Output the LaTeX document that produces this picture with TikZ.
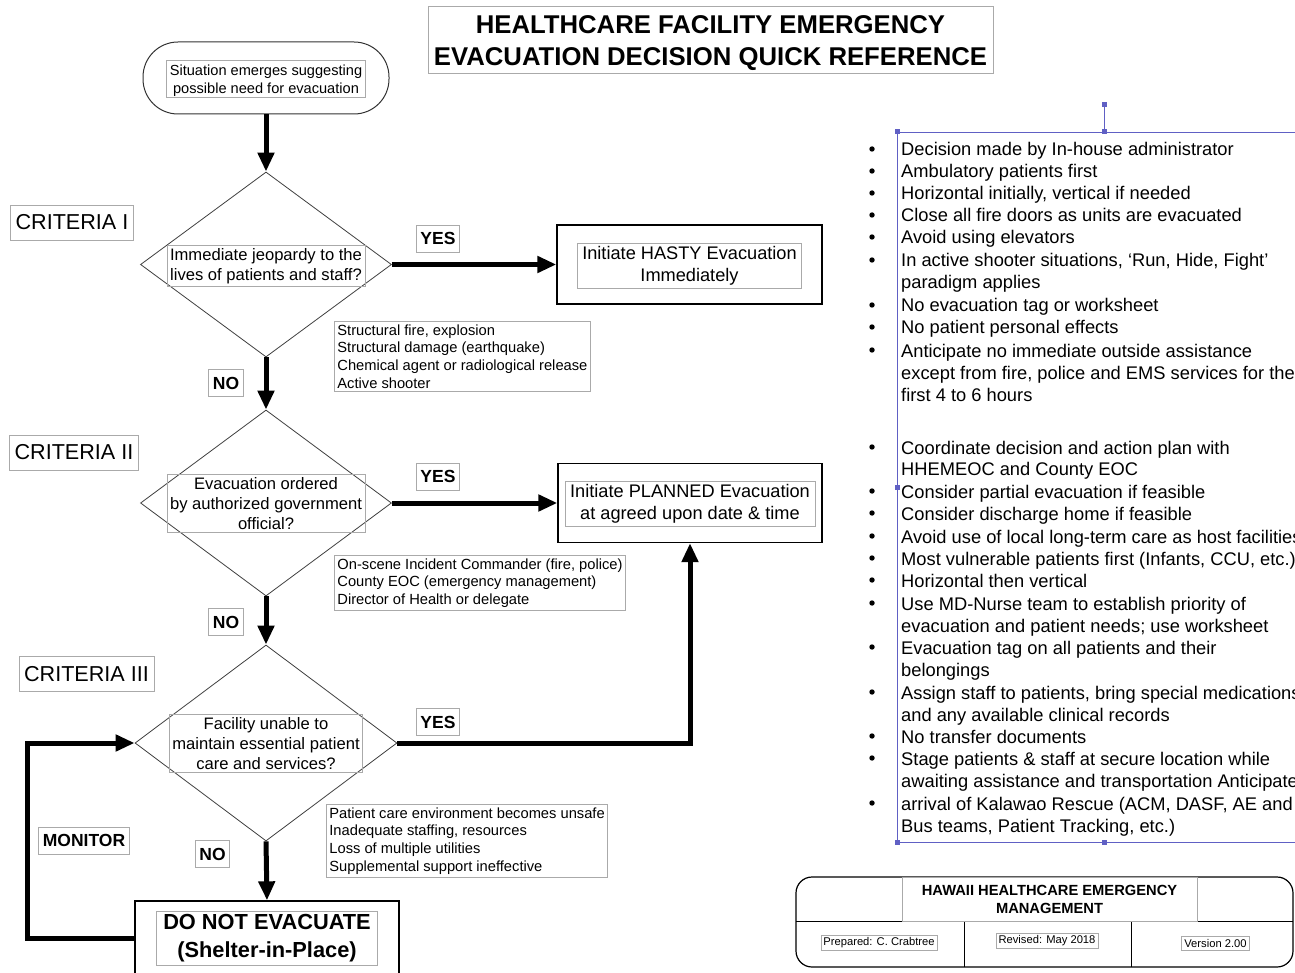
\documentclass[tikz,border=0pt]{standalone}
\usepackage{fontspec}
\setmainfont{Liberation Sans}
\usetikzlibrary{shapes.geometric,arrows.meta}

\definecolor{selblue}{RGB}{96,96,196}
\definecolor{boxgray}{RGB}{170,170,170}

\tikzset{
	gbox/.style={draw=boxgray, line width=0.8pt, inner sep=3pt, align=center},
	kbox/.style={draw=black, line width=1.3pt},
	decision/.style={diamond, draw=black!75, line width=0.8pt, inner sep=0pt},
	qtext/.style={gbox, font=\fontsize{16.6}{20}\selectfont},
	subtext/.style={gbox, anchor=north west, align=left, font=\fontsize{14.7}{17.7}\selectfont},
	yesno/.style={gbox, minimum height=27pt, inner xsep=4pt, font=\bfseries\fontsize{17.5}{20}\selectfont},
	crit/.style={gbox, minimum height=35pt, inner xsep=5pt, font=\fontsize{21.6}{24}\selectfont},
	flow/.style={line width=5pt, -{Triangle[length=19pt,width=16pt]}},
	item/.style={anchor=base west, inner sep=0pt, font=\fontsize{18.3}{22.2}\selectfont},
}

\begin{document}
\begin{tikzpicture}[x=1pt,y=-1pt]
	\useasboundingbox (0,0) rectangle (1295,973);
	\clip (0,0) rectangle (1295,973);
	\fill[white] (0,0) rectangle (1295,973);

	% title
	\node[gbox, minimum width=565pt, minimum height=67pt] (title) at (710.5,39.5) {};
	\node[align=center, inner sep=0pt, font=\bfseries\fontsize{25.7}{32}\selectfont] (titletxt) at (710.5,43)
		{HEALTHCARE FACILITY EMERGENCY\\EVACUATION DECISION QUICK REFERENCE};

	% flow chart
	\node[draw=black!80, line width=1pt, rounded corners=35pt, minimum width=246pt, minimum height=72pt] (start) at (266,78) {};
	\node[gbox, minimum width=199pt, minimum height=37pt] (startbox) at (266,78.5) {};
	\node[align=center, inner sep=0pt, font=\fontsize{14.6}{18}\selectfont] (starttxt) at (266,81) {Situation emerges suggesting\\possible need for evacuation};

	\node[decision, minimum width=251pt, minimum height=185pt] (d1) at (266,264.5) {};
	\node[qtext] (q1) at (266,266) {Immediate jeopardy to the\\lives of patients and staff?};

	\node[decision, minimum width=251pt, minimum height=186pt] (d2) at (266,503) {};
	\node[qtext] (q2) at (266,503.5) {Evacuation ordered\\by authorized government\\official?};

	\node[decision, minimum width=262pt, minimum height=196pt] (d3) at (266,743) {};
	\node[qtext] (q3) at (266,743.5) {Facility unable to\\maintain essential patient\\care and services?};

	\node[kbox, minimum width=265pt, minimum height=79pt] (hasty) at (689.5,264.5) {};
	\node[gbox, minimum width=224pt, font=\fontsize{18.2}{22}\selectfont] (hastytxt) at (689.5,265.5) {Initiate HASTY Evacuation\\Immediately};

	\node[kbox, minimum width=264pt, minimum height=79pt] (planned) at (690,503) {};
	\node[gbox, minimum width=250pt, font=\fontsize{18.2}{22}\selectfont] (plannedtxt) at (690,504) {Initiate PLANNED Evacuation\\at agreed upon date \& time};

	\node[kbox, minimum width=264pt, minimum height=74pt] (dne) at (267,938) {};
	\node[gbox, minimum width=221pt, font=\bfseries\fontsize{21.8}{28}\selectfont] (dnetxt) at (267,938.5) {DO NOT EVACUATE\\(Shelter-in-Place)};

	\node[subtext] (sub1) at (334,321) {Structural fire, explosion\\Structural damage (earthquake)\\Chemical agent or radiological release\\Active shooter};
	\node[subtext] (sub2) at (334,555) {On-scene Incident Commander (fire, police)\\County EOC (emergency management)\\Director of Health or delegate};
	\node[subtext] (sub3) at (326,804) {Patient care environment becomes unsafe\\Inadequate staffing, resources\\Loss of multiple utilities\\Supplemental support ineffective};

	\node[crit] (crit1) at (72,222.5) {CRITERIA I};
	\node[crit] (crit2) at (74,452.5) {CRITERIA II};
	\node[crit] (crit3) at (86.5,674) {CRITERIA III};

	\node[yesno] (yes1) at (438,238.5) {YES};
	\node[yesno] (yes2) at (438,476.5) {YES};
	\node[yesno] (yes3) at (438,722) {YES};
	\node[yesno] (no1) at (226,383) {NO};
	\node[yesno] (no2) at (226,622) {NO};
	\node[yesno] (no3) at (212.5,854) {NO};
	\node[yesno] (monitor) at (84,840.5) {MONITOR};

	\draw[flow] (start.south) -- (d1.north);
	\draw[flow] (d1.east) -- (hasty.west);
	\draw[flow] (d1.south) -- (d2.north);
	\draw[flow] (d2.east) -- (planned.west);
	\draw[flow] (d2.south) -- (d3.north);
	\draw[flow] (d3.east) -| (planned.south);
	\draw[flow] (d3.south) -- (dne.north);
	\draw[flow] (dne.west) -- ++(-107,0) |- (d3.west);

	% bullet list
	\draw[selblue, line width=0.8pt] (1104,105) -- (1104,132);
	\draw[selblue, line width=0.8pt] (1295,132) -- (897,132) -- (897,842) -- (1295,842);
	\foreach \hx/\hy in {897/132,1104/132,1104/105,897/842,1104/842,897/487}
		\fill[selblue] (\hx-2.5,\hy-2.5) rectangle (\hx+2.5,\hy+2.5);

	\foreach \by in {149,171,193,215,237,260,305,327,350,447,491,513,536,558,580,603,647,692,736,758,803}
		\fill (872,\by) circle (2.7);

	\foreach \ty/\tx [count=\i] in {
		149/{Decision made by In-house administrator},
		171/{Ambulatory patients first},
		193/{Horizontal initially, vertical if needed},
		215/{Close all fire doors as units are evacuated},
		237/{Avoid using elevators},
		260/{In active shooter situations, ‘Run, Hide, Fight’},
		282/{paradigm applies},
		305/{No evacuation tag or worksheet},
		327/{No patient personal effects},
		350/{Anticipate no immediate outside assistance},
		372/{except from fire, police and EMS services for the},
		394/{first 4 to 6 hours},
		447/{Coordinate decision and action plan with},
		468/{HHEMEOC and County EOC},
		491/{Consider partial evacuation if feasible},
		513/{Consider discharge home if feasible},
		536/{Avoid use of local long-term care as host facilities},
		558/{Most vulnerable patients first (Infants, CCU, etc.)},
		580/{Horizontal then vertical},
		603/{Use MD-Nurse team to establish priority of},
		625/{evacuation and patient needs; use worksheet},
		647/{Evacuation tag on all patients and their},
		669/{belongings},
		692/{Assign staff to patients, bring special medications},
		714/{and any available clinical records},
		736/{No transfer documents},
		758/{Stage patients \& staff at secure location while},
		780/{awaiting assistance and transportation Anticipate},
		803/{arrival of Kalawao Rescue (ACM, DASF, AE and},
		825/{Bus teams, Patient Tracking, etc.)}}
		\node[item] (line\i) at (901,\ty+7) {\tx};

	% footer
	\draw[line width=1.2pt, rounded corners=16pt] (796,877) rectangle (1293,967);
	\draw[line width=1pt] (796,921) -- (1293,921);
	\draw[line width=1pt] (964,921) -- (964,967);
	\draw[line width=1pt] (1131,921) -- (1131,967);
	\node[gbox, minimum width=295pt, minimum height=44pt, inner sep=1pt,
		font=\bfseries\fontsize{14.7}{18}\selectfont] (org) at (1049.5,899) {HAWAII HEALTHCARE EMERGENCY\\MANAGEMENT};
	\node[gbox, inner sep=2.5pt, font=\fontsize{11.2}{13}\selectfont] (prep) at (879,943) {Prepared: C. Crabtree};
	\node[gbox, inner sep=2.5pt, font=\fontsize{11.2}{13}\selectfont] (rev) at (1047,941) {Revised: May 2018};
	\node[gbox, inner sep=2.5pt, font=\fontsize{11.2}{13}\selectfont] (ver) at (1215.5,943.5) {Version 2.00};
\end{tikzpicture}
\end{document}
